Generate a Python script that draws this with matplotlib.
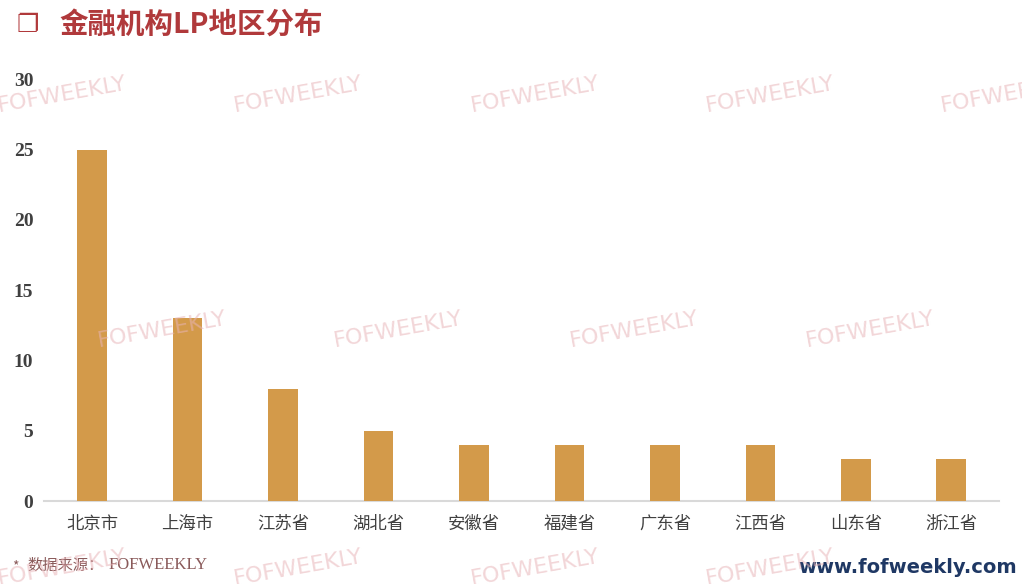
import matplotlib
matplotlib.use("Agg")
import matplotlib.pyplot as plt

categories = ["北京市", "上海市", "江苏省", "湖北省", "安徽省", "福建省", "广东省", "江西省", "山东省", "浙江省"]
values = [25, 13, 8, 5, 4, 4, 4, 4, 3, 3]
yticks = [0, 5, 10, 15, 20, 25, 30]

plt.rcParams['font.family'] = ['Noto Sans CJK SC', 'DejaVu Sans']

fig = plt.figure(figsize=(10.22, 5.84), dpi=100)
ax = fig.add_axes([0.0435, 0.142, 0.934, 0.722])

ax.bar(range(len(categories)), values, width=0.31, color="#D39A4A", zorder=3)
ax.set_xlim(-0.5, len(categories) - 0.5)
ax.set_ylim(0, 30)
ax.set_yticks(yticks)
ax.set_yticklabels([str(t) for t in yticks], family="Liberation Serif", fontweight="bold",
                   fontsize=14, color="#404040")
ax.set_xticks(range(len(categories)))
ax.set_xticklabels(categories, fontsize=12.5, color="#404040")
ax.tick_params(axis="both", length=0)
ax.tick_params(axis="y", pad=8)
ax.tick_params(axis="x", pad=10)
for s in ["top", "right", "left"]:
    ax.spines[s].set_visible(False)
ax.spines["bottom"].set_color("#D9D9D9")
ax.spines["bottom"].set_linewidth(1.5)

# title
fig.text(0.016, 0.957, "❐", family="DejaVu Sans", fontsize=18, color="#B0393B",
         va="center", ha="left")
fig.text(0.058, 0.957, "金融机构LP地区分布", fontsize=20.5, fontweight="bold",
         color="#B0393B", va="center", ha="left")

# footer
fig.text(0.012, 0.018, "*", fontsize=10, color="#8A5A5A", va="bottom", ha="left")
fig.text(0.027, 0.018, "数据来源：", fontsize=11, color="#8A5A5A", va="bottom", ha="left")
fig.text(0.106, 0.018, "FOFWEEKLY", family="Liberation Serif", fontsize=12,
         color="#8A5A5A", va="bottom", ha="left")
fig.text(0.995, 0.012, "www.fofweekly.com", family="DejaVu Sans", fontsize=14,
         fontweight="bold", color="#1F3864", va="bottom", ha="right")

# watermarks
wm_rows = [(95, [62, 298, 535, 770, 1005]), (330, [162, 398, 634, 870]),
           (568, [62, 298, 535, 770])]
for y, xs in wm_rows:
    for x in xs:
        fig.text(x / 1022, 1 - y / 584, "FOFWEEKLY", family="DejaVu Sans", fontsize=16,
                 color="#E8B4B8", alpha=0.55, rotation=10, ha="center", va="center",
                 zorder=10)

fig.savefig("out.png", dpi=100)
